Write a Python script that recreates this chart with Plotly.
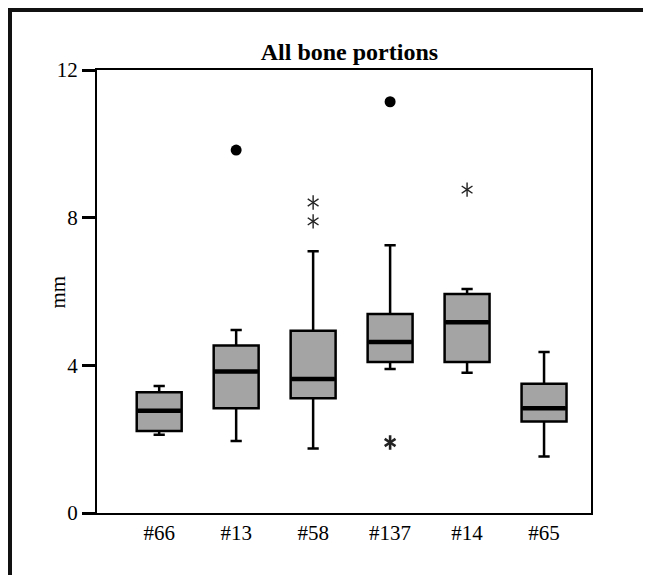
import plotly.graph_objects as go

categories = ["#66", "#13", "#58", "#137", "#14", "#65"]
q1 = [2.22, 2.84, 3.11, 4.09, 4.09, 2.48]
median = [2.77, 3.83, 3.63, 4.63, 5.17, 2.84]
q3 = [3.27, 4.54, 4.94, 5.39, 5.93, 3.50]
lower_whisker = [2.12, 1.95, 1.75, 3.90, 3.80, 1.53]
upper_whisker = [3.44, 4.96, 7.09, 7.25, 6.07, 4.36]

outlier_x = ["#13", "#137"]
outlier_y = [9.83, 11.14]
extreme_x = ["#58", "#58", "#137", "#14"]
extreme_y = [8.41, 7.90, 1.91, 8.76]

y_ticks = [0, 4, 8, 12]

FONT = "Liberation Serif, Times New Roman, serif"

fig = go.Figure()

fig.add_trace(go.Box(
    x=categories, q1=q1, median=median, q3=q3,
    lowerfence=lower_whisker, upperfence=upper_whisker,
    boxpoints=False, width=0.584, whiskerwidth=0.25,
    fillcolor="#a4a4a4", line=dict(color="black", width=2.5),
    showlegend=False, hoverinfo="skip",
))

# thick median bars
fig.add_trace(go.Scatter(
    x=categories, y=median, mode="markers",
    marker=dict(symbol="line-ew", size=31, line=dict(color="black", width=4.5)),
    showlegend=False, hoverinfo="skip",
))

# outliers (circles)
fig.add_trace(go.Scatter(
    x=outlier_x, y=outlier_y, mode="markers",
    marker=dict(symbol="circle", size=11, color="black"),
    showlegend=False, hoverinfo="skip",
))

# extremes (asterisks) drawn as two overlaid Y markers
for sym in ["y-up-open", "y-down-open"]:
    fig.add_trace(go.Scatter(
        x=extreme_x, y=extreme_y, mode="markers",
        marker=dict(symbol=sym, size=9, color="#222",
                    line=dict(color="#222", width=[1.4, 1.4, 2.6, 1.4])),
        showlegend=False, hoverinfo="skip",
    ))

fig.update_layout(
    width=643, height=567,
    margin=dict(l=89, r=60, t=62, b=62),
    paper_bgcolor="white", plot_bgcolor="white",
    font=dict(family=FONT, size=21, color="black"),
    title=dict(text="<b>All bone portions</b>", x=0.531, xanchor="center",
               y=0.923, yanchor="middle", yref="container",
               font=dict(family=FONT, size=24, color="black")),
    xaxis=dict(type="category", categoryorder="array", categoryarray=categories,
               range=[-0.808, 5.61], showline=True, linewidth=2, linecolor="black",
               mirror=True, ticks="", showgrid=False, zeroline=False,
               tickfont=dict(family=FONT, size=21, color="black")),
    yaxis=dict(range=[0, 12], tickvals=y_ticks, showline=True, linewidth=2,
               linecolor="black", mirror=True, ticks="outside", ticklen=13,
               tickwidth=2.5, tickcolor="black", showgrid=False, zeroline=False,
               tickfont=dict(family=FONT, size=21, color="black")),
    annotations=[dict(text="mm", xref="paper", yref="paper", x=-0.079, y=0.5,
                      xanchor="center", yanchor="middle", textangle=-90,
                      showarrow=False, font=dict(family=FONT, size=21, color="black"))],
    shapes=[
        dict(type="line", xref="paper", yref="paper", x0=-0.19, x1=1.25,
             y0=1.1354, y1=1.1354, line=dict(color="#111", width=4)),
        dict(type="line", xref="paper", yref="paper", x0=-0.1761, x1=-0.1761,
             y0=1.14, y1=-0.3, line=dict(color="#111", width=4)),
    ],
)

fig.write_html("out.html")
